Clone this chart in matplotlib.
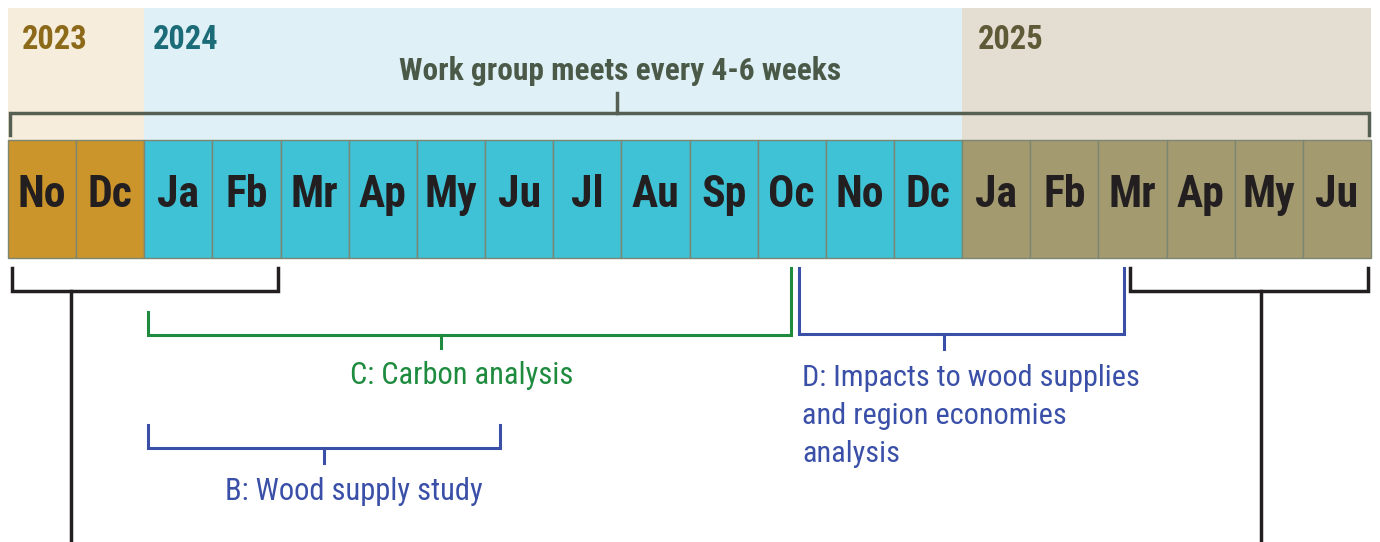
import matplotlib
matplotlib.use("Agg")
import matplotlib.pyplot as plt
from matplotlib.patches import Rectangle
from matplotlib import font_manager

# ---- data ----
months = ["No", "Dc", "Ja", "Fb", "Mr", "Ap", "My", "Ju", "Jl", "Au", "Sp", "Oc",
          "No", "Dc", "Ja", "Fb", "Mr", "Ap", "My", "Ju"]
month_year = [2023, 2023] + [2024] * 12 + [2025] * 6
years = [2023, 2024, 2025]
year_cell_colors = {2023: "#CC952C", 2024: "#3FC1D6", 2025: "#A39A6F"}
year_bg_colors = {2023: "#F6EDDC", 2024: "#DFF1F6", 2025: "#E4DDD1"}
year_text_colors = {2023: "#8C6A1A", 2024: "#1B6B78", 2025: "#5E5A38"}
year_label_offset = {2023: 0.2, 2024: 0.12, 2025: 0.23}  # in months

# phases: (label, start month, end month, colour)
meeting_label = "Work group meets every 4-6 weeks"
phase_C = ("C: Carbon analysis", 2.06, 11.49, "#1E8B3E")
phase_B = ("B: Wood supply study", 2.06, 7.22, "#3A4FA8")
phase_D = ("D: Impacts to wood supplies\nand region economies\nanalysis", 11.61, 16.38, "#3A4FA8")
black_left = (0.06, 3.96)
black_right = (16.46, 19.95)

# ---- font choice: prefer a narrow sans ----
available = {f.name for f in font_manager.fontManager.ttflist}
scale = 1.0
for cand in ["Roboto Condensed", "Liberation Sans Narrow", "Arial Narrow",
             "DejaVu Sans Condensed"]:
    if cand in available:
        FAM = [cand, "DejaVu Sans"]
        break
else:
    FAM = ["Liberation Sans", "DejaVu Sans"]
    scale = 0.88

def fs(x):
    return x * scale

# ---- figure ----
W, H = 1380, 542
fig = plt.figure(figsize=(W / 100, H / 100), dpi=100)
ax = fig.add_axes([0, 0, 1, 1])
mw = (1371 - 8) / 20.0
ax.set_xlim(-8 / mw, 20 + 9 / mw)
ax.set_ylim(H, 0)
ax.axis("off")

# year background panels
for y in years:
    idx = [i for i, v in enumerate(month_year) if v == y]
    x0, x1 = idx[0], idx[-1] + 1
    ax.add_patch(Rectangle((x0, 8), x1 - x0, 132, facecolor=year_bg_colors[y],
                           edgecolor="none", zorder=0))
    ax.text(x0 + year_label_offset[y], 40, str(y), fontsize=fs(23.5), fontweight="bold",
            family=FAM, color=year_text_colors[y], ha="left", va="center")

# month cells
for i, (m, y) in enumerate(zip(months, month_year)):
    ax.add_patch(Rectangle((i, 140), 1, 118, facecolor=year_cell_colors[y],
                           edgecolor="#7C8670", linewidth=1.0, zorder=1))
    ax.text(i + 0.5, 195, m, fontsize=fs(31.5), fontweight="bold", family=FAM,
            color="#231F20", ha="center", va="center", zorder=2)

# top meeting bracket
gc = "#556052"
ax.plot([0.03, 0.03, 19.97, 19.97], [135, 113, 113, 135], color=gc, lw=2.5,
        solid_joinstyle="miter", zorder=3)
ax.plot([8.93, 8.93], [113, 93], color=gc, lw=2.5, zorder=3)
ax.text(8.98, 71, meeting_label, fontsize=fs(22.6), fontweight="bold", family=FAM,
        color="#4B5A48", ha="center", va="center")

# black brackets with stems
for (a, b), stem in [(black_left, 0.92), (black_right, 18.39)]:
    ax.plot([a, a, b, b], [268, 291, 291, 268], color="#231F20", lw=2.5,
            solid_joinstyle="miter")
    ax.plot([stem, stem], [291, H + 5], color="#231F20", lw=2.5)

# C bracket
lab, a, b, c = phase_C
ax.plot([a, a, b, b], [312, 335, 335, 268], color=c, lw=2.2, solid_joinstyle="miter")
mid = 6.35
ax.plot([mid, mid], [335, 348], color=c, lw=2.2)
ax.text(6.65, 376, lab, fontsize=fs(22), family=FAM, color=c, ha="center", va="center")

# B bracket
lab, a, b, c = phase_B
ax.plot([a, a, b, b], [425, 448, 448, 425], color=c, lw=2.2, solid_joinstyle="miter")
mid = (a + b) / 2
ax.plot([mid, mid], [448, 463], color=c, lw=2.2)
ax.text(5.08, 492, lab, fontsize=fs(22), family=FAM, color=c, ha="center", va="center")

# D bracket
lab, a, b, c = phase_D
ax.plot([a, a, b, b], [268, 334, 334, 268], color=c, lw=2.2, solid_joinstyle="miter")
mid = (944 - 8) / mw
ax.plot([mid, mid], [334, 349], color=c, lw=2.2)
ax.text((802 - 8) / mw, 364, lab, fontsize=fs(21.8), family=FAM, color=c,
        ha="left", va="top", linespacing=1.45)

fig.savefig("out.png", dpi=100)
